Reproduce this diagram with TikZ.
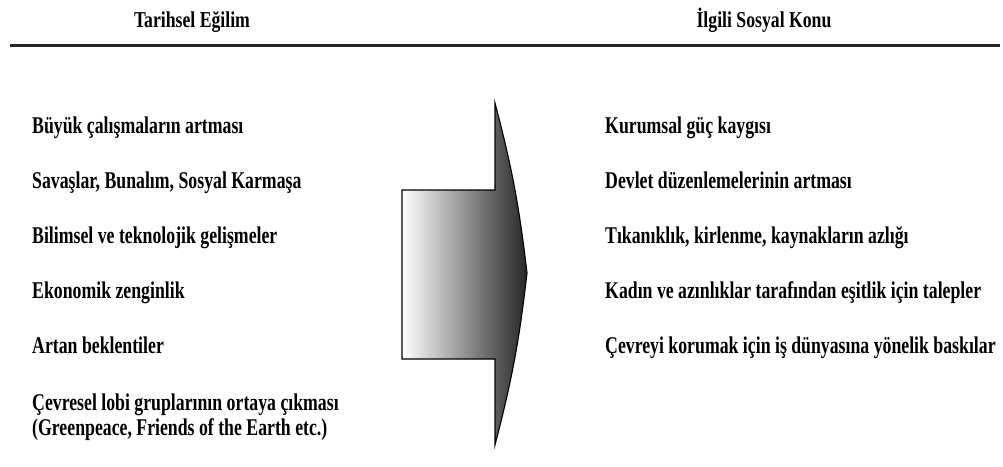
\documentclass[tikz,border=0pt]{standalone}
\usepackage{fontspec}
\setmainfont{Liberation Serif}
\newfontfamily\itemfont{Liberation Serif}[FakeStretch=0.74]
\newfontfamily\headfont{Liberation Serif}[FakeStretch=0.78]
\begin{document}
\begin{tikzpicture}[x=1pt,y=-1pt,
  item/.style={anchor=base west,inner sep=0pt,font=\itemfont\bfseries\fontsize{24}{23}\selectfont,text=black},
  head/.style={anchor=base,inner sep=0pt,font=\headfont\bfseries\fontsize{22.7}{26}\selectfont},
  arrowshape/.style={draw=black,line width=1.1pt,left color=white,right color=black!85,line join=miter}]
\useasboundingbox (0,0) rectangle (1003,466);
\node[head] (h1) at (192,27) {Tarihsel Eğilim};
\node[head] (h2) at (764,27) {İlgili Sosyal Konu};
\coordinate (r1) at (10,45);
\coordinate (r2) at (1000,45);
\draw[line width=3pt,black!85] (r1) -- (r2);
% arrow
\coordinate (a1) at (402,190);
\coordinate (a2) at (495,190);
\coordinate (a3) at (495,103);
\coordinate (tip) at (527,273);
\coordinate (a5) at (495,445);
\coordinate (a6) at (495,359);
\coordinate (a7) at (402,359);
\path[arrowshape] (a1) -- (a2) -- (a3) to[bend left=4] (tip) to[bend left=4] (a5) -- (a6) -- (a7) -- cycle;
% left
\node[item] (l1) at (32,133) {Büyük çalışmaların artması};
\node[item] (l2) at (32,188) {Savaşlar, Bunalım, Sosyal Karmaşa};
\node[item] (l3) at (32,243) {Bilimsel ve teknolojik gelişmeler};
\node[item] (l4) at (32,298) {Ekonomik zenginlik};
\node[item] (l5) at (32,353) {Artan beklentiler};
\node[item,align=left] (l6) at (32,435) {Çevresel lobi gruplarının ortaya çıkması\\[2pt](Greenpeace, Friends of the Earth etc.)};
% right
\node[item] (k1) at (605,133) {Kurumsal güç kaygısı};
\node[item] (k2) at (605,188) {Devlet düzenlemelerinin artması};
\node[item] (k3) at (605,243) {Tıkanıklık, kirlenme, kaynakların azlığı};
\node[item] (k4) at (605,298) {Kadın ve azınlıklar tarafından eşitlik için talepler};
\node[item] (k5) at (605,353) {Çevreyi korumak için iş dünyasına yönelik baskılar};
\end{tikzpicture}
\end{document}
